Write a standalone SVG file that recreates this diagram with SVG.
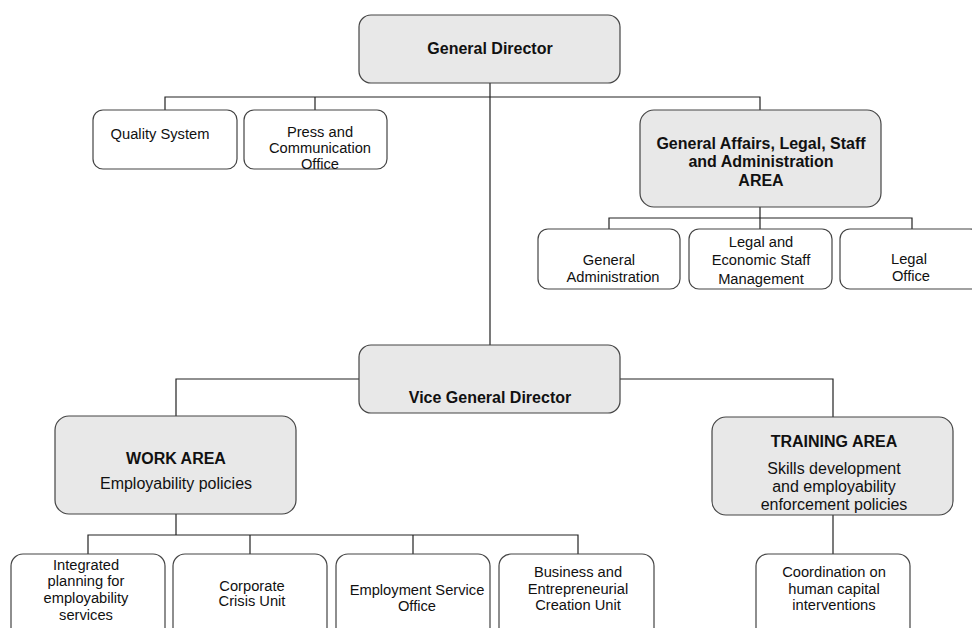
<svg xmlns="http://www.w3.org/2000/svg" width="972" height="628" viewBox="0 0 972 628">
<style>
.g{fill:#e8e8e8;stroke:#444;stroke-width:1.2}
.w{fill:#fff;stroke:#444;stroke-width:1.2}
.c{fill:none;stroke:#222;stroke-width:1.2}
text{font-family:"Liberation Sans",Arial,sans-serif;font-size:14.7px;fill:#111;text-anchor:middle}
.b{font-weight:bold;font-size:16px}
.m{font-size:16px}
</style>
<rect width="972" height="628" fill="#fff"/>
<g id="connectors">
<path class="c" d="M490 83V345M165 110V97H760V110M315 97V110"/>
<path class="c" d="M760 207V218M609 229V218H912V229M760 218V229"/>
<path class="c" d="M359 379H176V416M620 379H833V417"/>
<path class="c" d="M176 514V535M88 554V535H578V554M250 535V554M413 535V554"/>
<path class="c" d="M833 515V554"/>
</g>
<g id="general-director"><rect class="g" x="359" y="15" width="261" height="68" rx="12"/><text class="b" x="490" y="54">General Director</text></g>
<g id="quality-system"><rect class="w" x="93" y="110" width="144" height="59" rx="10"/><text x="160" y="139">Quality System</text></g>
<g id="press"><rect class="w" x="244" y="110" width="143" height="59" rx="10"/><text x="320" y="137">Press and</text><text x="320" y="153">Communication</text><text x="320" y="169">Office</text></g>
<g id="general-affairs"><rect class="g" x="640" y="110" width="241" height="97" rx="14"/><text class="b" x="761" y="149">General Affairs, Legal, Staff</text><text class="b" x="761" y="167">and Administration</text><text class="b" x="761" y="186">AREA</text></g>
<g id="general-administration"><rect class="w" x="538" y="229" width="142" height="60" rx="10"/><text x="609" y="265">General</text><text x="613" y="282">Administration</text></g>
<g id="legal-economic"><rect class="w" x="689" y="229" width="143" height="60" rx="10"/><text x="761" y="247">Legal and</text><text x="761" y="265">Economic Staff</text><text x="761" y="284">Management</text></g>
<g id="legal-office"><rect class="w" x="840" y="229" width="140" height="60" rx="10"/><text x="909" y="264">Legal</text><text x="911" y="281">Office</text></g>
<g id="vice-director"><rect class="g" x="359" y="345" width="261" height="68" rx="12"/><text class="b" x="490" y="403">Vice General Director</text></g>
<g id="work-area"><rect class="g" x="55" y="416" width="241" height="98" rx="14"/><text class="b" x="176" y="464">WORK AREA</text><text class="m" x="176" y="489">Employability policies</text></g>
<g id="training-area"><rect class="g" x="712" y="417" width="241" height="98" rx="14"/><text class="b" x="834" y="447">TRAINING AREA</text><text class="m" x="834" y="474">Skills development</text><text class="m" x="834" y="492">and employability</text><text class="m" x="834" y="510">enforcement policies</text></g>
<g id="integrated-planning"><rect class="w" x="11" y="554" width="154" height="90" rx="12"/><text x="86" y="570">Integrated</text><text x="86" y="586">planning for</text><text x="86" y="603">employability</text><text x="86" y="620">services</text></g>
<g id="corporate-crisis"><rect class="w" x="173" y="554" width="154" height="90" rx="12"/><text x="252" y="591">Corporate</text><text x="252" y="606">Crisis Unit</text></g>
<g id="employment-service"><rect class="w" x="336" y="554" width="154" height="90" rx="12"/><text x="417" y="595">Employment Service</text><text x="417" y="611">Office</text></g>
<g id="business-creation"><rect class="w" x="499" y="554" width="155" height="90" rx="12"/><text x="578" y="577">Business and</text><text x="578" y="594">Entrepreneurial</text><text x="578" y="610">Creation Unit</text></g>
<g id="coordination"><rect class="w" x="756" y="554" width="154" height="90" rx="12"/><text x="834" y="577">Coordination on</text><text x="834" y="594">human capital</text><text x="834" y="610">interventions</text></g>
</svg>
